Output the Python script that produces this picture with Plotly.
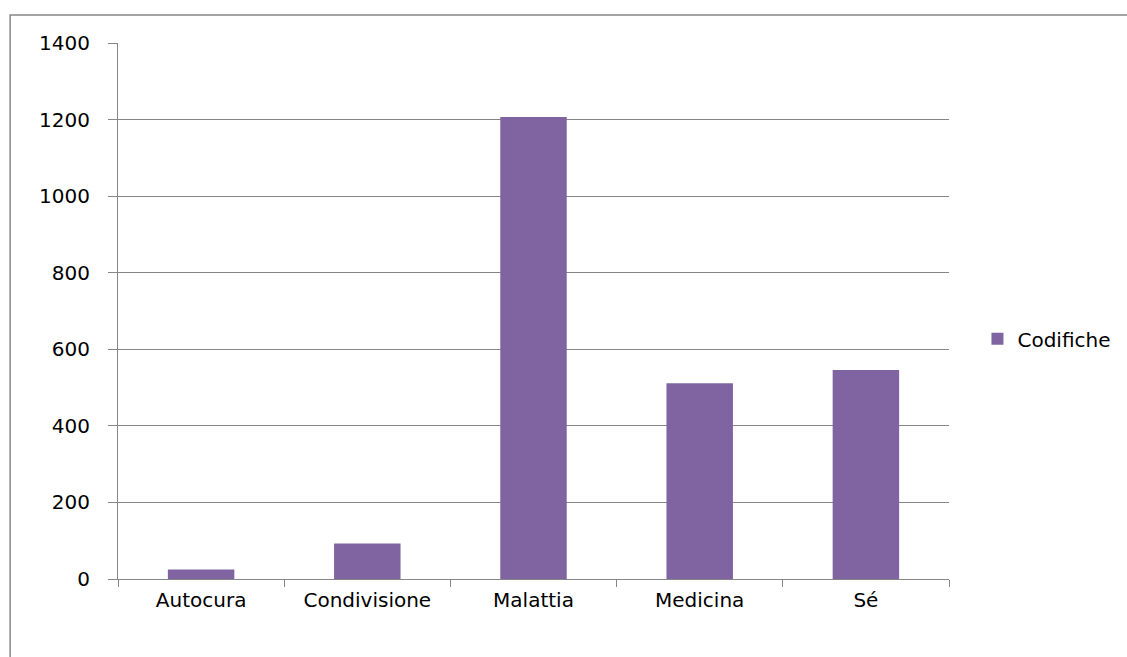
import plotly.graph_objects as go

categories = ["Autocura", "Condivisione", "Malattia", "Medicina", "Sé"]
values = [25, 93, 1207, 511, 546]
series_name = "Codifiche"
y_ticks = [0, 200, 400, 600, 800, 1000, 1200, 1400]

W, H = 1127, 657
L, R, T, B = 118, 177, 43, 78

fig = go.Figure()
fig.add_trace(go.Bar(x=categories, y=values, name=series_name,
                     marker=dict(color="#8064A2", line=dict(width=0)),
                     showlegend=True))

font = "'DejaVu Sans', sans-serif"
fig.update_layout(
    width=W, height=H,
    margin=dict(l=L, r=R, t=T, b=B),
    paper_bgcolor="white", plot_bgcolor="white",
    bargap=0.6,
    font=dict(family=font, size=20, color="#000000"),
    showlegend=True,
    legend=dict(x=1.033, y=0.448, xanchor="left", yanchor="middle",
                font=dict(size=20, family=font), bgcolor="rgba(0,0,0,0)",
                itemwidth=30, tracegroupgap=0),
    xaxis=dict(type="category", showgrid=False, showline=True, linecolor="#868686",
               linewidth=1, ticks="outside", tickson="boundaries", ticklen=7,
               tickcolor="#868686", tickfont=dict(size=20, family=font),
               ticklabelstandoff=3),
    yaxis=dict(range=[0, 1400], tickvals=y_ticks, showgrid=True, gridcolor="#868686",
               gridwidth=1, showline=True, linecolor="#868686", linewidth=1,
               ticks="outside", ticklen=9, tickcolor="#868686", zeroline=False,
               tickfont=dict(size=20, family=font), ticklabelstandoff=14),
    shapes=[dict(type="rect", xref="paper", yref="paper",
                 x0=(10 - L) / (W - L - R), x1=(1140 - L) / (W - L - R),
                 y0=-(670 - (H - B)) / (H - T - B), y1=1 + (T - 15) / (H - T - B),
                 line=dict(color="#868686", width=1.5), layer="below")],
)

fig.write_html("out.html")
